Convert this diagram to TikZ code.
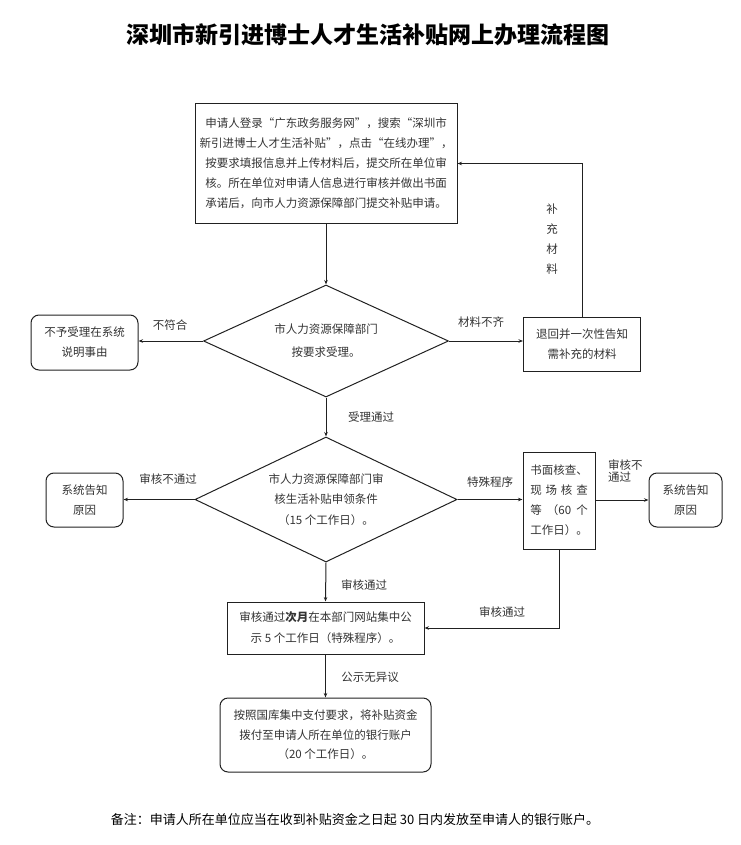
\documentclass[tikz,border=0pt]{standalone}
\usepackage{fontspec}
\setmainfont{Noto Sans CJK SC}
\usetikzlibrary{shapes.geometric,arrows.meta}
\newlength{\du}
\setlength{\du}{1pt}
\definecolor{flowline}{rgb}{0.130000, 0.130000, 0.130000}
\definecolor{flowtext}{rgb}{0.200000, 0.200000, 0.200000}
\tikzset{
  box/.style={draw=flowline, line width=1\du, rectangle, inner sep=0pt, align=center,
    text=flowtext, font=\fontsize{11.5}{20}\selectfont},
  roundbox/.style={box, rounded corners=8\du},
  decision/.style={box, diamond, aspect=2},
  flowlabel/.style={text=flowtext, align=center, inner sep=0pt, font=\fontsize{11.5}{13}\selectfont},
  flow/.style={draw=flowline, line width=1\du, -{Stealth[length=4.5pt,width=3.5pt]}},
}

\begin{document}
\begin{tikzpicture}
\pgftransformxscale{1.000000}
\pgftransformyscale{-1.000000}
\useasboundingbox (0\du,0\du) rectangle (740\du,845\du);
% title
\node[text=black, font=\fontsize{23}{23}\selectfont\bfseries] (title) at (368\du,35\du){深圳市新引进博士人才生活补贴网上办理流程图};
% boxes
\node[box, minimum width=262\du, minimum height=119\du] (apply) at (326\du,163.5\du){申请人登录“广东政务服务网”，搜索“深圳市\\新引进博士人才生活补贴”，点击“在线办理”，\\按要求填报信息并上传材料后，提交所在单位审\\核。所在单位对申请人信息进行审核并做出书面\\承诺后，向市人力资源保障部门提交补贴申请。};
\node[decision, minimum width=245\du, minimum height=112\du, font=\fontsize{11.5}{23}\selectfont] (accept) at (326\du,341\du){市人力资源保障部门\\按要求受理。};
\node[roundbox, minimum width=107\du, minimum height=55\du] (reject) at (84.5\du,342.5\du){不予受理在系统\\说明事由};
\node[box, minimum width=117\du, minimum height=54\du] (supply) at (582\du,344\du){退回并一次性告知\\需补充的材料};
\node[decision, minimum width=262\du, minimum height=125\du, font=\fontsize{11.5}{20.5}\selectfont] (review) at (326\du,499.5\du){市人力资源保障部门审\\核生活补贴申领条件\\（15 个工作日）。};
\node[roundbox, minimum width=77\du, minimum height=54\du] (notifyA) at (84.5\du,500\du){系统告知\\原因};
\node[box, align=left, minimum width=72\du, minimum height=97\du] (verify) at (559\du,500.5\du){书面核查、\\\makebox[5em][s]{现\hfill 场\hfill 核\hfill 查}\\\makebox[5em][s]{等\hfill （60\hfill 个}\\工作日）。};
\node[roundbox, minimum width=73\du, minimum height=54\du] (notifyB) at (685.5\du,500\du){系统告知\\原因};
\node[box, minimum width=197\du, minimum height=52\du, font=\fontsize{11.5}{21}\selectfont] (publicize) at (325.5\du,628\du){审核通过\textbf{次月}在本部门网站集中公\\示 5 个工作日（特殊程序）。};
\node[roundbox, minimum width=211\du, minimum height=74\du, font=\fontsize{11.5}{19.5}\selectfont] (pay) at (325.5\du,735\du){按照国库集中支付要求，将补贴资金\\拨付至申请人所在单位的银行账户\\（20 个工作日）。};
% labels
\node[flowlabel] (lblReject) at (170\du,325\du){不符合};
\node[flowlabel] (lblSupply) at (481\du,322\du){材料不齐};
\node[flowlabel, font=\fontsize{11.5}{20}\selectfont] (lblBack) at (552\du,239\du){补\\充\\材\\料};
\node[flowlabel] (lblAccept) at (371\du,417\du){受理通过};
\node[flowlabel] (lblFailA) at (168\du,479\du){审核不通过};
\node[flowlabel] (lblSpecial) at (490\du,482\du){特殊程序};
\node[flowlabel, align=left, anchor=west, font=\fontsize{11.5}{12}\selectfont] (lblFailB) at (608\du,471\du){审核不\\通过};
\node[flowlabel] (lblPassA) at (364\du,585\du){审核通过};
\node[flowlabel] (lblPassB) at (502\du,612\du){审核通过};
\node[flowlabel] (lblPublic) at (370\du,677\du){公示无异议};
% note
\node[text=black, font=\fontsize{13}{13}\selectfont] (note) at (355\du,820\du){备注：申请人所在单位应当在收到补贴资金之日起 30 日内发放至申请人的银行账户。};
% connectors
\draw[flow] (apply.south) -- (accept.north);
\draw[flow] (accept.west) -- (accept.west -| reject.east);
\draw[flow] (accept.east) -- (accept.east -| supply.west);
\draw[flow] (supply.north) |- (apply.east);
\draw[flow] (accept.south) -- (review.north);
\draw[flow] (review.west) -- (review.west -| notifyA.east);
\draw[flow] (review.east) -- (review.east -| verify.west);
\draw[flow] (notifyB.west -| verify.east) -- (notifyB.west);
\draw[flow] (review.south) -- (publicize.north);
\draw[flow] (verify.south) |- (publicize.east);
\draw[flow] (publicize.south) -- (pay.north);
\end{tikzpicture}
\end{document}
